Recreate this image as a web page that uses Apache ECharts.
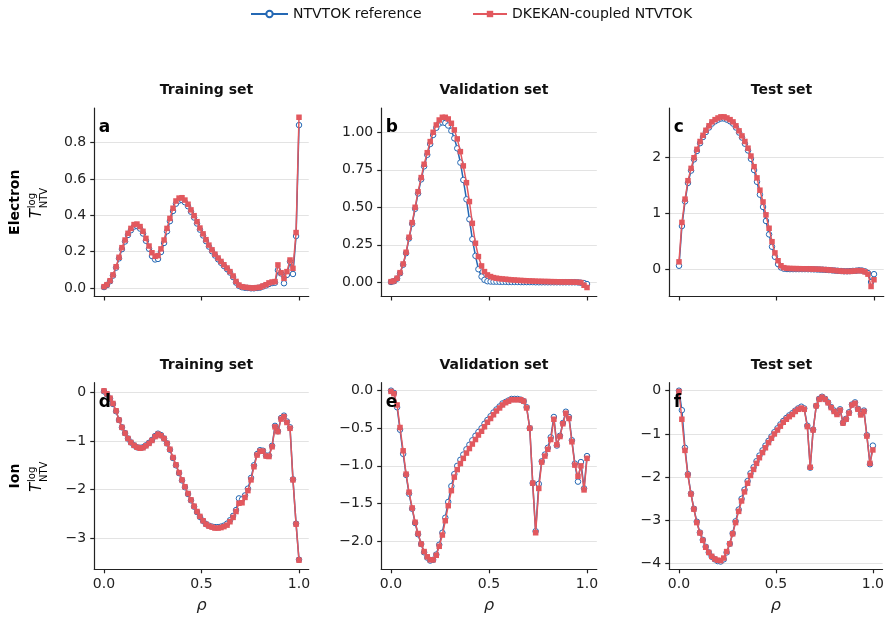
<!DOCTYPE html>
<html><head><meta charset="utf-8">
<script src="https://cdn.jsdelivr.net/npm/echarts@6/dist/echarts.min.js"></script>
<style>html,body{margin:0;padding:0;background:#fff}#c{width:887px;height:623px}</style>
</head><body><div id="c"></div>
<script>
// ---------- data ----------
const rho = [0.000,0.015,0.031,0.046,0.062,0.077,0.092,0.108,0.123,0.138,0.154,0.169,0.185,0.200,0.215,0.231,0.246,0.262,0.277,0.292,0.308,0.323,0.338,0.354,0.369,0.385,0.400,0.415,0.431,0.446,0.462,0.477,0.492,0.508,0.523,0.538,0.554,0.569,0.585,0.600,0.615,0.631,0.646,0.662,0.677,0.692,0.708,0.723,0.738,0.754,0.769,0.785,0.800,0.815,0.831,0.846,0.862,0.877,0.892,0.908,0.923,0.938,0.954,0.969,0.985,1.000];

const elecTrainRef = [0.005,0.016,0.037,0.068,0.112,0.163,0.214,0.256,0.292,0.318,0.338,0.341,0.327,0.300,0.260,0.216,0.176,0.157,0.160,0.198,0.248,0.312,0.368,0.424,0.464,0.481,0.484,0.472,0.450,0.420,0.388,0.355,0.321,0.289,0.258,0.228,0.202,0.179,0.158,0.139,0.121,0.104,0.085,0.060,0.030,0.012,0.004,0.001,0.000,-0.002,-0.002,0.000,0.002,0.008,0.014,0.022,0.027,0.029,0.098,0.080,0.026,0.072,0.145,0.077,0.286,0.897];
const elecTrainDk = [0.007,0.018,0.040,0.072,0.117,0.169,0.222,0.264,0.301,0.328,0.349,0.352,0.338,0.312,0.273,0.231,0.194,0.174,0.178,0.215,0.264,0.328,0.383,0.439,0.479,0.495,0.497,0.484,0.461,0.430,0.398,0.365,0.330,0.298,0.266,0.236,0.210,0.186,0.165,0.146,0.128,0.110,0.090,0.066,0.036,0.016,0.007,0.004,0.002,0.000,0.000,0.002,0.004,0.011,0.018,0.028,0.033,0.035,0.127,0.084,0.053,0.090,0.154,0.108,0.305,0.940];

const elecValRef = [0.002,0.007,0.024,0.060,0.117,0.194,0.292,0.390,0.490,0.592,0.686,0.773,0.850,0.922,0.982,1.030,1.058,1.066,1.062,1.045,1.010,0.960,0.893,0.798,0.682,0.553,0.420,0.287,0.176,0.087,0.038,0.016,0.007,0.005,0.004,0.004,0.003,0.003,0.003,0.002,0.002,0.002,0.002,0.001,0.001,0.001,0.001,0.001,0.000,0.000,0.000,0.000,0.000,0.000,0.000,0.000,0.000,0.000,0.000,0.000,0.000,0.000,-0.001,-0.003,-0.006,-0.012];
const elecValDk = [0.004,0.009,0.027,0.064,0.122,0.200,0.300,0.398,0.500,0.604,0.698,0.787,0.864,0.938,1.000,1.049,1.082,1.100,1.100,1.089,1.060,1.016,0.956,0.871,0.776,0.664,0.538,0.393,0.260,0.171,0.109,0.071,0.049,0.038,0.031,0.027,0.024,0.022,0.020,0.018,0.016,0.015,0.013,0.012,0.011,0.010,0.009,0.008,0.007,0.006,0.006,0.005,0.005,0.004,0.004,0.003,0.003,0.002,0.002,0.002,0.001,0.001,0.000,-0.002,-0.020,-0.035];

const elecTestRef = [0.07,0.78,1.22,1.55,1.77,1.97,2.12,2.26,2.37,2.46,2.54,2.61,2.65,2.68,2.70,2.70,2.68,2.65,2.61,2.54,2.45,2.36,2.25,2.13,1.98,1.78,1.57,1.34,1.12,0.87,0.63,0.41,0.23,0.10,0.04,0.018,0.012,0.010,0.010,0.010,0.010,0.010,0.010,0.009,0.008,0.006,0.004,0.002,0.000,-0.003,-0.007,-0.012,-0.016,-0.020,-0.024,-0.028,-0.028,-0.026,-0.022,-0.018,-0.012,-0.015,-0.030,-0.060,-0.220,-0.080];
const elecTestDk = [0.14,0.845,1.26,1.59,1.81,2.00,2.15,2.29,2.40,2.49,2.57,2.64,2.68,2.71,2.73,2.73,2.71,2.68,2.64,2.57,2.48,2.39,2.29,2.17,2.03,1.84,1.64,1.42,1.21,0.98,0.74,0.50,0.30,0.16,0.07,0.036,0.024,0.022,0.020,0.019,0.018,0.017,0.016,0.015,0.013,0.011,0.009,0.006,0.003,0.000,-0.005,-0.010,-0.015,-0.020,-0.025,-0.030,-0.030,-0.030,-0.025,-0.020,-0.015,-0.020,-0.040,-0.080,-0.300,-0.180];

const ionTrainRef = [0.02,-0.04,-0.13,-0.24,-0.39,-0.57,-0.72,-0.84,-0.95,-1.03,-1.09,-1.13,-1.14,-1.13,-1.09,-1.04,-0.98,-0.90,-0.85,-0.88,-0.95,-1.05,-1.18,-1.35,-1.50,-1.66,-1.81,-1.95,-2.09,-2.22,-2.35,-2.46,-2.56,-2.64,-2.71,-2.74,-2.76,-2.77,-2.77,-2.76,-2.74,-2.70,-2.63,-2.54,-2.42,-2.18,-2.20,-2.12,-1.98,-1.76,-1.50,-1.27,-1.19,-1.20,-1.30,-1.30,-1.10,-0.69,-0.80,-0.53,-0.48,-0.60,-0.72,-1.79,-2.70,-3.44];
const ionTrainDk = [0.03,-0.03,-0.12,-0.23,-0.38,-0.57,-0.72,-0.84,-0.95,-1.03,-1.09,-1.13,-1.15,-1.14,-1.10,-1.05,-0.99,-0.91,-0.86,-0.89,-0.95,-1.05,-1.17,-1.34,-1.49,-1.65,-1.80,-1.94,-2.08,-2.21,-2.34,-2.45,-2.55,-2.64,-2.71,-2.75,-2.77,-2.79,-2.79,-2.78,-2.76,-2.73,-2.66,-2.57,-2.45,-2.28,-2.27,-2.16,-2.02,-1.80,-1.53,-1.29,-1.21,-1.21,-1.31,-1.32,-1.12,-0.71,-0.81,-0.55,-0.50,-0.62,-0.74,-1.80,-2.71,-3.45];

const ionValRef = [0.00,-0.03,-0.22,-0.52,-0.84,-1.12,-1.37,-1.57,-1.76,-1.91,-2.04,-2.15,-2.22,-2.26,-2.25,-2.18,-2.05,-1.89,-1.69,-1.48,-1.27,-1.11,-1.00,-0.92,-0.85,-0.78,-0.72,-0.66,-0.60,-0.55,-0.50,-0.44,-0.39,-0.34,-0.29,-0.25,-0.21,-0.17,-0.15,-0.13,-0.11,-0.11,-0.11,-0.12,-0.14,-0.22,-0.50,-1.23,-1.87,-1.24,-0.94,-0.85,-0.76,-0.62,-0.35,-0.73,-0.60,-0.43,-0.28,-0.35,-0.66,-0.97,-1.21,-0.95,-1.30,-0.87];
const ionValDk = [-0.01,-0.04,-0.19,-0.49,-0.80,-1.11,-1.35,-1.56,-1.75,-1.90,-2.04,-2.14,-2.21,-2.25,-2.25,-2.19,-2.07,-1.92,-1.73,-1.53,-1.33,-1.15,-1.05,-0.97,-0.90,-0.83,-0.77,-0.71,-0.65,-0.59,-0.54,-0.48,-0.42,-0.37,-0.32,-0.27,-0.23,-0.19,-0.16,-0.14,-0.12,-0.12,-0.12,-0.12,-0.14,-0.23,-0.50,-1.23,-1.89,-1.30,-0.95,-0.87,-0.78,-0.65,-0.38,-0.72,-0.61,-0.44,-0.30,-0.37,-0.68,-0.99,-1.14,-1.00,-1.32,-0.90];

const ionTestRef = [0.00,-0.45,-1.32,-1.93,-2.38,-2.73,-3.03,-3.28,-3.45,-3.61,-3.74,-3.84,-3.90,-3.94,-3.95,-3.90,-3.74,-3.54,-3.30,-3.02,-2.75,-2.50,-2.29,-2.09,-1.91,-1.77,-1.63,-1.50,-1.38,-1.27,-1.16,-1.06,-0.96,-0.87,-0.78,-0.70,-0.63,-0.57,-0.52,-0.46,-0.41,-0.37,-0.41,-0.81,-1.78,-0.90,-0.35,-0.19,-0.14,-0.19,-0.27,-0.38,-0.46,-0.53,-0.43,-0.74,-0.65,-0.50,-0.32,-0.27,-0.42,-0.54,-0.46,-1.03,-1.70,-1.27];
const ionTestDk = [-0.02,-0.66,-1.38,-1.95,-2.39,-2.74,-3.05,-3.29,-3.46,-3.62,-3.74,-3.83,-3.89,-3.92,-3.93,-3.87,-3.72,-3.54,-3.31,-3.05,-2.79,-2.55,-2.34,-2.14,-1.96,-1.82,-1.68,-1.55,-1.43,-1.32,-1.20,-1.10,-1.00,-0.91,-0.82,-0.73,-0.66,-0.60,-0.55,-0.48,-0.43,-0.40,-0.43,-0.83,-1.77,-0.91,-0.35,-0.20,-0.15,-0.20,-0.28,-0.39,-0.48,-0.55,-0.45,-0.75,-0.66,-0.52,-0.33,-0.29,-0.43,-0.56,-0.48,-1.05,-1.68,-1.37];

const xTicks = [0, 0.5, 1.0];
const elecTrainTicks = [0, 0.2, 0.4, 0.6, 0.8];
const elecValTicks = [0, 0.25, 0.5, 0.75, 1.0];
const elecTestTicks = [0, 1, 2];
const ionTrainTicks = [-3, -2, -1, 0];
const ionValTicks = [-2, -1.5, -1, -0.5, 0];
const ionTestTicks = [-4, -3, -2, -1, 0];

const seriesNames = ['NTVTOK reference', 'DKEKAN-coupled NTVTOK'];
const panelTitles = ['Training set', 'Validation set', 'Test set'];
const panelLetters = ['a','b','c','d','e','f'];
const rowNames = ['Electron', 'Ion'];

// ---------- layout / style ----------
const FONT = 'DejaVu Sans';
const BLUE = '#2468b4';
const RED = '#e2585e';
const AX = '#222222';
const cols = [{l:94.25, w:214.5}, {l:381.2, w:215.6}, {l:669.25, w:214.5}];
const rows = [{t:108, h:188.5}, {t:382.7, h:186.6}];

const panels = [
  {ref: elecTrainRef, dk: elecTrainDk, ticks: elecTrainTicks, min:-0.047, max:0.991, dec:1},
  {ref: elecValRef,   dk: elecValDk,   ticks: elecValTicks,   min:-0.095, max:1.162, dec:2},
  {ref: elecTestRef,  dk: elecTestDk,  ticks: elecTestTicks,  min:-0.479, max:2.888, dec:0},
  {ref: ionTrainRef,  dk: ionTrainDk,  ticks: ionTrainTicks,  min:-3.637, max:0.197, dec:0},
  {ref: ionValRef,    dk: ionValDk,    ticks: ionValTicks,    min:-2.376, max:0.106, dec:1},
  {ref: ionTestRef,   dk: ionTestDk,   ticks: ionTestTicks,   min:-4.13,  max:0.185, dec:0}
];

const fmt = (v, d) => {
  const s = Math.abs(v).toFixed(d);
  return (v < -1e-9 ? '\u2212' : '') + s;
};

const grid = [], xAxis = [], yAxis = [], series = [], title = [], graphic = [];
panels.forEach((p, k) => {
  const r = Math.floor(k / 3), c = k % 3;
  const C = cols[c], R = rows[r];
  grid.push({left: C.l, top: R.t, width: C.w, height: R.h, containLabel: false});
  xAxis.push({
    type: 'value', gridIndex: k, min: -0.05, max: 1.05,
    axisLine: {show: true, onZero: false, lineStyle: {color: AX, width: 1.2}},
    axisTick: {show: true, length: 4, lineStyle: {color: AX, width: 1.2}, customValues: xTicks},
    axisLabel: {show: r === 1, customValues: xTicks, formatter: v => fmt(v, 1), color: AX,
                fontFamily: FONT, fontSize: 14, margin: 8},
    splitLine: {show: false},
    name: r === 1 ? 'ρ' : '', nameLocation: 'middle', nameGap: 29,
    nameTextStyle: {fontFamily: FONT, fontSize: 16, fontStyle: 'italic', color: AX}
  });
  yAxis.push({
    type: 'value', gridIndex: k, min: p.min, max: p.max,
    axisLine: {show: true, onZero: false, lineStyle: {color: AX, width: 1.2}},
    axisTick: {show: true, length: 4, lineStyle: {color: AX, width: 1.2}, customValues: p.ticks},
    axisLabel: {customValues: p.ticks, formatter: v => fmt(v, p.dec), color: AX,
                fontFamily: FONT, fontSize: 14, margin: 8},
    splitLine: {show: true, lineStyle: {color: '#e3e3e3', width: 1}}
  });
  series.push({
    name: seriesNames[0], type: 'line', xAxisIndex: k, yAxisIndex: k,
    data: rho.map((x, i) => [x, p.ref[i]]),
    symbol: 'circle', symbolSize: 5.5, showSymbol: true,
    lineStyle: {color: BLUE, width: 1.5},
    itemStyle: {color: '#ffffff', borderColor: BLUE, borderWidth: 1},
    z: 2, animation: false, emphasis: {disabled: true}
  });
  series.push({
    name: seriesNames[1], type: 'line', xAxisIndex: k, yAxisIndex: k,
    data: rho.map((x, i) => [x, p.dk[i]]),
    symbol: 'rect', symbolSize: 5.5, showSymbol: true,
    lineStyle: {color: RED, width: 1.5},
    itemStyle: {color: RED, borderWidth: 0},
    z: 3, animation: false, emphasis: {disabled: true}
  });
  title.push({
    text: panelTitles[c], left: C.l + C.w / 2, top: r === 0 ? 78 : 353, textAlign: 'center',
    textStyle: {fontFamily: FONT, fontSize: 14, fontWeight: 'bold', color: '#111'}
  });
  graphic.push({
    type: 'text', x: C.l + 4.5, y: r === 0 ? 136 : 411, z: 100,
    style: {text: panelLetters[k], font: 'bold 17px "' + FONT + '"', fill: '#000',
            align: 'left', verticalAlign: 'bottom'}
  });
});

rows.forEach((R, r) => {
  const cy = R.t + R.h / 2;
  graphic.push({
    type: 'text', x: 15, y: cy, rotation: Math.PI / 2,
    style: {text: rowNames[r], font: 'bold 14px "' + FONT + '"', fill: '#000',
            align: 'center', verticalAlign: 'middle'}
  });
  graphic.push({
    type: 'group', x: 37.5, y: cy + 16, rotation: Math.PI / 2,
    children: [
      {type: 'text', x: 0, y: 0, style: {text: 'T', font: 'italic 15px "' + FONT + '"', fill: '#000', align: 'left', verticalAlign: 'middle'}},
      {type: 'text', x: 10, y: -5, style: {text: 'log', font: '10px "' + FONT + '"', fill: '#000', align: 'left', verticalAlign: 'middle'}},
      {type: 'text', x: 10, y: 6.5, style: {text: 'NTV', font: '10px "' + FONT + '"', fill: '#000', align: 'left', verticalAlign: 'middle'}}
    ]
  });
});

const legendText = {fontFamily: FONT, fontSize: 14, color: '#111'};
const option = {
  backgroundColor: '#ffffff',
  animation: false,
  title: title,
  legend: [
    {data: [seriesNames[0]], left: 245, top: 2, itemWidth: 37, itemHeight: 8, textStyle: legendText, selectedMode: false},
    {data: [seriesNames[1]], left: 467, top: 2, itemWidth: 34, itemHeight: 8, textStyle: legendText, selectedMode: false}
  ],
  grid: grid, xAxis: xAxis, yAxis: yAxis, series: series, graphic: graphic
};
const chart = echarts.init(document.getElementById('c'), null, {renderer: 'canvas'});
chart.setOption(option);
</script>
</body></html>
